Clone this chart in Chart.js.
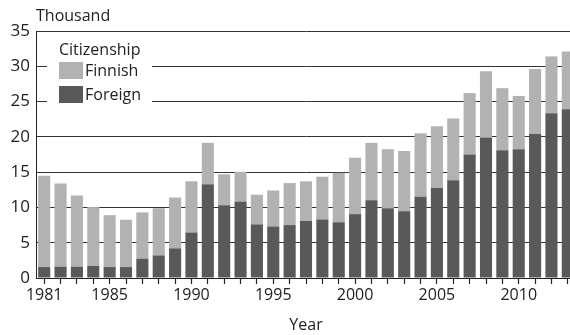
<!DOCTYPE html>
<html>
<head>
<meta charset="utf-8">
<script src="https://cdn.jsdelivr.net/npm/chart.js@4"></script>
<style>
  html, body { margin: 0; padding: 0; background: #fff; overflow: hidden; }
  #wrap { position: relative; width: 576px; height: 335px; }
</style>
</head>
<body>
<div id="wrap"><canvas id="chart"></canvas></div>
<script>
'use strict';

const YEARS = ['1981', '1982', '1983', '1984', '1985', '1986', '1987', '1988', '1989', '1990',
  '1991', '1992', '1993', '1994', '1995', '1996', '1997', '1998', '1999', '2000',
  '2001', '2002', '2003', '2004', '2005', '2006', '2007', '2008', '2009', '2010',
  '2011', '2012', '2013'];
const SHOWN_YEARS = ['1981', '1985', '1990', '1995', '2000', '2005', '2010'];
const TOTAL = [14.5, 13.4, 11.7, 10.05, 8.9, 8.25, 9.3, 9.9, 11.4, 13.7,
  19.15, 14.7, 15.05, 11.8, 12.4, 13.45, 13.7, 14.35, 14.9, 17.05,
  19.15, 18.25, 18.0, 20.5, 21.5, 22.6, 26.2, 29.3, 26.9, 25.8,
  29.6, 31.4, 32.1];
const FOREIGN = [1.55, 1.6, 1.6, 1.7, 1.55, 1.55, 2.75, 3.2, 4.2, 6.45,
  13.3, 10.3, 10.85, 7.6, 7.3, 7.5, 8.1, 8.3, 7.9, 9.05,
  11.0, 9.9, 9.45, 11.5, 12.75, 13.85, 17.5, 19.9, 18.1, 18.25,
  20.4, 23.35, 23.9];
const FINNISH = TOTAL.map((t, i) => +(t - FOREIGN[i]).toFixed(2));

const FONT = "'Open Sans', sans-serif";
const COLOR_FINNISH = '#b2b2b2';
const COLOR_FOREIGN = '#595959';

const overlayPlugin = {
  id: 'overlay',
  afterDraw(chart) {
    const { ctx, chartArea } = chart;
    ctx.save();
    // legend box inside plot
    ctx.fillStyle = '#fff';
    ctx.fillRect(chartArea.left + 11, chartArea.top + 6, 105, 76);
    ctx.fillStyle = '#222';
    ctx.font = '16px ' + FONT;
    ctx.textBaseline = 'middle';
    ctx.textAlign = 'left';
    ctx.fillText('Citizenship', chartArea.left + 23, chartArea.top + 19);
    const items = [['Finnish', COLOR_FINNISH], ['Foreign', COLOR_FOREIGN]];
    items.forEach(([name, color], i) => {
      const y = chartArea.top + 31 + i * 24;
      ctx.fillStyle = color;
      ctx.fillRect(chartArea.left + 23, y, 24, 17);
      ctx.fillStyle = '#222';
      ctx.fillText(name, chartArea.left + 49, y + 9);
    });
    // unit label
    ctx.textBaseline = 'alphabetic';
    ctx.fillText('Thousand', chartArea.left, chartArea.top - 10);
    ctx.restore();
  }
};

function makeChart() {
  const ctx = document.getElementById('chart').getContext('2d');
  return new Chart(ctx, {
    type: 'bar',
    data: {
      labels: YEARS,
      datasets: [
        { label: 'Foreign', data: FOREIGN, backgroundColor: COLOR_FOREIGN, barPercentage: 0.74, categoryPercentage: 1 },
        { label: 'Finnish', data: FINNISH, backgroundColor: COLOR_FINNISH, barPercentage: 0.74, categoryPercentage: 1 }
      ]
    },
    options: {
      responsive: true,
      maintainAspectRatio: false,
      animation: false,
      layout: { padding: { top: 31, right: 0, bottom: 0, left: 0 } },
      plugins: { legend: { display: false }, tooltip: { enabled: false } },
      scales: {
        x: {
          stacked: true,
          offset: true,
          afterFit: scale => { scale.height = 57; },
          grid: { display: true, offset: false, drawOnChartArea: false, drawTicks: true, tickLength: 6, tickColor: '#222', tickWidth: 1.2, color: '#222' },
          border: { color: '#222', width: 1 },
          ticks: {
            autoSkip: false,
            maxRotation: 0,
            padding: 2,
            color: '#222',
            font: { family: FONT, size: 16 },
            callback: (value, index) => SHOWN_YEARS.includes(YEARS[index]) ? YEARS[index] : ''
          },
          title: { display: true, text: 'Year', color: '#222', font: { family: FONT, size: 16 }, padding: { top: 0, bottom: 0 } }
        },
        y: {
          stacked: true,
          min: 0,
          max: 35,
          afterFit: scale => { scale.width = 36; },
          grid: { color: '#333', lineWidth: 1, drawTicks: false },
          border: { color: '#222', width: 1 },
          ticks: {
            stepSize: 5,
            padding: 6,
            color: '#222',
            font: { family: FONT, size: 17 }
          }
        }
      }
    },
    plugins: [overlayPlugin]
  });
}

makeChart();
</script>
</body>
</html>
